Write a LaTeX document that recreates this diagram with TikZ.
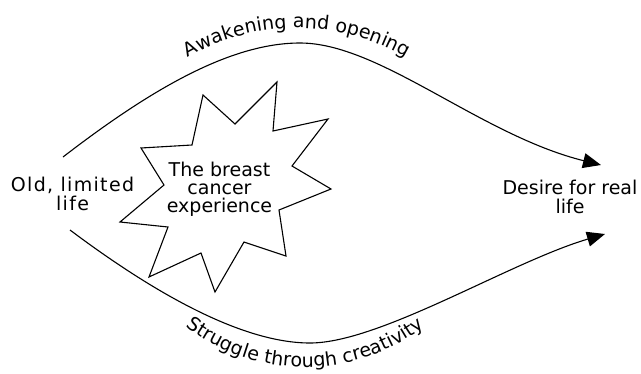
\documentclass[tikz,border=0pt]{standalone}
\usepackage{fontspec}
\setmainfont{DejaVu Sans}
\usetikzlibrary{arrows.meta,decorations.text}
\newcommand\dfont{\fontsize{19}{19}\selectfont}
\begin{document}
\begin{tikzpicture}[x=1pt,y=-1pt,
  lbl/.style={font=\dfont, align=center, inner sep=0pt},
  flow/.style={line width=1.1pt, -{Triangle[length=18pt,width=15pt]}},
  starline/.style={line width=1.1pt, line join=miter}]
\useasboundingbox (0,0) rectangle (641,373);
% text nodes
\node[lbl] (old) at (72.5,194.3) {\addfontfeature{LetterSpace=7}Old, limited\\\addfontfeature{LetterSpace=7}life};
\node[lbl] (desire) at (570,197.3) {Desire for real\\life};
% star
\draw[starline] (277,82) -- (273,131) -- (328,119) -- (292,166) -- (331,189) -- (279,210)
  -- (286,256) -- (244,242) -- (215,292) -- (201,253) -- (149,277) -- (168,227)
  -- (120,222) -- (164,185) -- (141,148) -- (192,145) -- (203,95) -- (235,124) -- cycle;
\node[lbl, font={\fontsize{19}{18}\selectfont}] (bc) at (219.5,189) {The breast\\cancer\\experience};
% connector ends
\coordinate (ts) at (63,157);
\coordinate (tp) at (300,43);
\coordinate (bs) at (70,230);
\coordinate (bp) at (310,343);
\coordinate (te) at (601,165);
\coordinate (be) at (605,234);
\draw[flow] (ts) .. controls (150,90) and (230,43) .. (tp)
  .. controls (380,43) and (480,135) .. (te);
\draw[flow] (bs) .. controls (150,290) and (240,343) .. (bp)
  .. controls (380,343) and (510,262) .. (be);
% curved labels
\path[decorate, decoration={text along path, text align=center,
  text={|\dfont|Awakening and opening}}]
  (157.1,78.9) .. controls (238,11) and (356,11) .. (436.9,78.9);
\path[decorate, decoration={text along path, text align=center,
  text={|\dfont|Struggle through creativity}}]
  (178.2,320.9) .. controls (251.5,382.4) and (358.5,382.4) .. (431.8,320.9);
\end{tikzpicture}
\end{document}
